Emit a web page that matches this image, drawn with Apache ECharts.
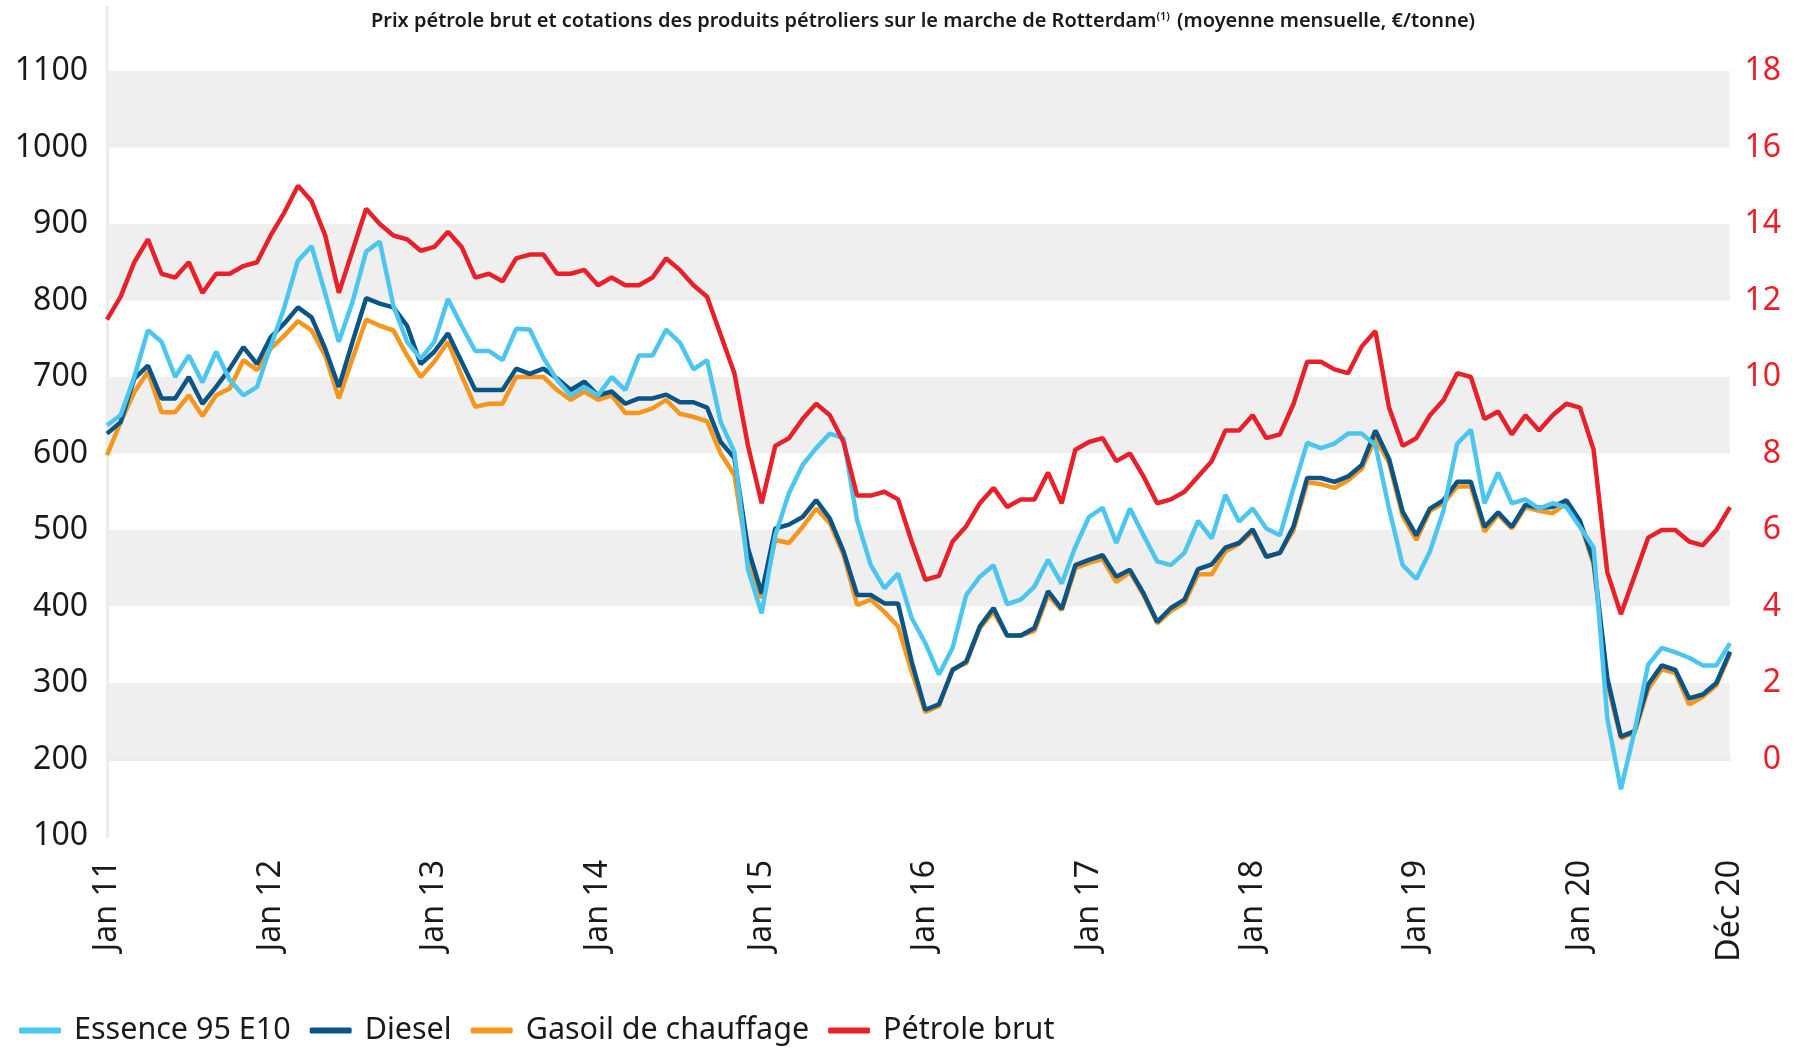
<!DOCTYPE html>
<html>
<head>
<meta charset="utf-8">
<title>Prix pétrole brut et cotations Rotterdam</title>
<script src="https://cdn.jsdelivr.net/npm/echarts@6/dist/echarts.min.js"></script>
<style>
  html, body { margin: 0; padding: 0; background: #fff; }
  #main { width: 1796px; height: 1049px; }
</style>
</head>
<body>
<div id="main"></div>
<script>
// mois et années pour l'axe des x (jan 2011 -> déc 2020)
var mois = ['Jan', 'Fév', 'Mar', 'Avr', 'Mai', 'Juin', 'Juil', 'Août', 'Sep', 'Oct', 'Nov', 'Déc'];
var annees = ['11', '12', '13', '14', '15', '16', '17', '18', '19', '20'];

// €/tonne, axe de gauche
var essence = [637, 650, 700, 761, 746, 700, 728, 693, 733, 696, 676, 687,
  740, 791, 852, 871, 809, 746, 798, 864, 877, 793, 746, 724,
  746, 802, 767, 734, 734, 722, 763, 762, 725, 696, 676, 687,
  676, 700, 683, 728, 728, 762, 745, 710, 722, 641, 602, 448,
  391, 493, 548, 585, 607, 626, 620, 513, 454, 424, 443, 385,
  352, 311, 346, 415, 439, 454, 403, 409, 426, 461, 430, 478,
  517, 529, 483, 528, 493, 459, 454, 470, 512, 489, 546, 511,
  528, 502, 493, 555, 614, 607, 613, 626, 626, 611, 528, 454,
  436, 472, 526, 613, 631, 535, 575, 535, 540, 528, 535, 530,
  504, 477, 254, 161, 237, 324, 346, 340, 333, 323, 323, 352];

var diesel = [626, 641, 698, 715, 672, 672, 700, 665, 687, 711, 739, 717,
  752, 770, 791, 778, 737, 687, 746, 803, 796, 791, 767, 717,
  733, 757, 720, 683, 683, 683, 711, 704, 711, 698, 683, 694,
  676, 681, 665, 672, 672, 677, 667, 667, 660, 615, 594, 476,
  417, 502, 507, 517, 539, 515, 472, 415, 415, 404, 404, 328,
  265, 272, 317, 328, 374, 398, 362, 362, 372, 420, 397, 454,
  461, 467, 439, 448, 417, 380, 398, 409, 449, 455, 477, 483,
  501, 465, 470, 505, 568, 568, 563, 570, 585, 630, 593, 524,
  493, 528, 539, 563, 563, 504, 523, 504, 533, 529, 530, 539,
  512, 459, 307, 230, 237, 298, 323, 317, 280, 285, 300, 341];

var gasoil = [598, 641, 680, 707, 654, 654, 676, 649, 676, 685, 722, 709,
  737, 754, 773, 761, 728, 672, 724, 775, 767, 761, 728, 700,
  720, 746, 702, 661, 665, 665, 700, 700, 700, 683, 670, 681,
  670, 676, 653, 653, 659, 670, 652, 648, 642, 600, 572, 459,
  411, 487, 483, 504, 528, 509, 468, 402, 409, 393, 374, 315,
  262, 270, 318, 326, 372, 393, 362, 362, 368, 415, 395, 450,
  457, 462, 432, 445, 415, 378, 394, 405, 442, 442, 472, 482,
  498, 465, 470, 500, 562, 560, 555, 565, 580, 620, 588, 518,
  487, 525, 535, 557, 557, 498, 520, 502, 530, 525, 522, 535,
  510, 455, 300, 228, 235, 292, 318, 313, 272, 282, 297, 338];

// axe de droite
var petrole = [11.5, 12.1, 13.0, 13.6, 12.7, 12.6, 13.0, 12.2, 12.7, 12.7, 12.9, 13.0,
  13.7, 14.3, 15.0, 14.6, 13.7, 12.2, 13.3, 14.4, 14.0, 13.7, 13.6, 13.3,
  13.4, 13.8, 13.4, 12.6, 12.7, 12.5, 13.1, 13.2, 13.2, 12.7, 12.7, 12.8,
  12.4, 12.6, 12.4, 12.4, 12.6, 13.1, 12.8, 12.4, 12.1, 11.1, 10.1, 8.2,
  6.7, 8.2, 8.4, 8.9, 9.3, 9.0, 8.3, 6.9, 6.9, 7.0, 6.8, 5.7,
  4.7, 4.8, 5.7, 6.1, 6.7, 7.1, 6.6, 6.8, 6.8, 7.5, 6.7, 8.1,
  8.3, 8.4, 7.8, 8.0, 7.4, 6.7, 6.8, 7.0, 7.4, 7.8, 8.6, 8.6,
  9.0, 8.4, 8.5, 9.3, 10.4, 10.4, 10.2, 10.1, 10.8, 11.2, 9.2, 8.2,
  8.4, 9.0, 9.4, 10.1, 10.0, 8.9, 9.1, 8.5, 9.0, 8.6, 9.0, 9.3,
  9.2, 8.1, 4.9, 3.8, 4.8, 5.8, 6.0, 6.0, 5.7, 5.6, 6.0, 6.6];

var categories = [];
for (var a = 0; a < annees.length; a++) {
  for (var m = 0; m < mois.length; m++) categories.push(mois[m] + ' ' + annees[a]);
}

var police = 'Noto Sans';

var myChart = echarts.init(document.getElementById('main'));
myChart.setOption({
  animation: false,
  backgroundColor: '#ffffff',
  title: {
    text: 'Prix pétrole brut et cotations des produits pétroliers sur le marche de Rotterdam{sup|(1)} (moyenne mensuelle, €/tonne)',
    left: 918,
    textAlign: 'center',
    top: 6,
    textStyle: {
      fontFamily: police,
      fontSize: 20,
      fontWeight: 600,
      color: '#1a1a1a',
      rich: {
        sup: { fontSize: 11, fontWeight: 600, fontFamily: police, color: '#1a1a1a', verticalAlign: 'top', padding: [0, 2, 8, 0] }
      }
    }
  },
  // prolongement de l'axe gauche jusqu'en haut, comme sur l'original
  graphic: [{
    type: 'line',
    shape: { x1: 107, y1: 6, x2: 107, y2: 72 },
    style: { stroke: '#ececec', lineWidth: 3 },
    silent: true
  }],
  legend: {
    left: 14,
    top: 1010,
    icon: 'roundRect',
    itemWidth: 42,
    itemHeight: 6,
    itemGap: 19,
    textStyle: { fontFamily: police, fontSize: 30.5, color: '#1a1a1a', padding: [0, 0, 0, 8] },
    data: ['Essence 95 E10', 'Diesel', 'Gasoil de chauffage', 'Pétrole brut']
  },
  grid: {
    left: 107,
    right: 66,
    top: 71,
    bottom: 213,
    outerBoundsMode: 'none'
  },
  xAxis: {
    type: 'category',
    data: categories,
    boundaryGap: false,
    axisLine: { lineStyle: { color: '#ececec', width: 3 } },
    axisTick: { show: false },
    axisLabel: {
      rotate: 90,
      margin: 24,
      fontFamily: police,
      fontSize: 32,
      color: '#1a1a1a',
      interval: function (idx) { return idx % 12 === 0 || idx === categories.length - 1; }
    },
    splitLine: { show: false }
  },
  yAxis: [
    {
      type: 'value',
      min: 100,
      max: 1100,
      interval: 100,
      axisLine: { show: true, lineStyle: { color: '#ececec', width: 3 } },
      axisTick: { show: false },
      axisLabel: {
        margin: 19, fontFamily: police, fontSize: 32, color: '#1a1a1a',
        formatter: function (v) { return String(v); }
      },
      splitLine: { show: false },
      splitArea: { show: true, areaStyle: { color: ['#ffffff', '#efefef'] } }
    },
    {
      type: 'value',
      min: -2,
      max: 18,
      interval: 2,
      position: 'right',
      axisLine: { show: false },
      axisTick: { show: false },
      splitLine: { show: false },
      axisLabel: {
        margin: 51,
        align: 'right',
        fontFamily: police,
        fontSize: 32,
        color: '#e8202a',
        formatter: function (v) { return v < 0 ? '' : String(v); }
      }
    }
  ],
  series: [
    {
      name: 'Gasoil de chauffage', type: 'line', data: gasoil, yAxisIndex: 0,
      showSymbol: false, symbol: 'none', color: '#f5961f',
      lineStyle: { width: 4.5, color: '#f5961f' }
    },
    {
      name: 'Diesel', type: 'line', data: diesel, yAxisIndex: 0,
      showSymbol: false, symbol: 'none', color: '#0a5585',
      lineStyle: { width: 4.5, color: '#0a5585' }
    },
    {
      name: 'Essence 95 E10', type: 'line', data: essence, yAxisIndex: 0,
      showSymbol: false, symbol: 'none', color: '#4cc5ef',
      lineStyle: { width: 4.5, color: '#4cc5ef' }
    },
    {
      name: 'Pétrole brut', type: 'line', data: petrole, yAxisIndex: 1,
      showSymbol: false, symbol: 'none', color: '#e8202a',
      lineStyle: { width: 4.5, color: '#e8202a' }
    }
  ]
});
</script>
</body>
</html>
